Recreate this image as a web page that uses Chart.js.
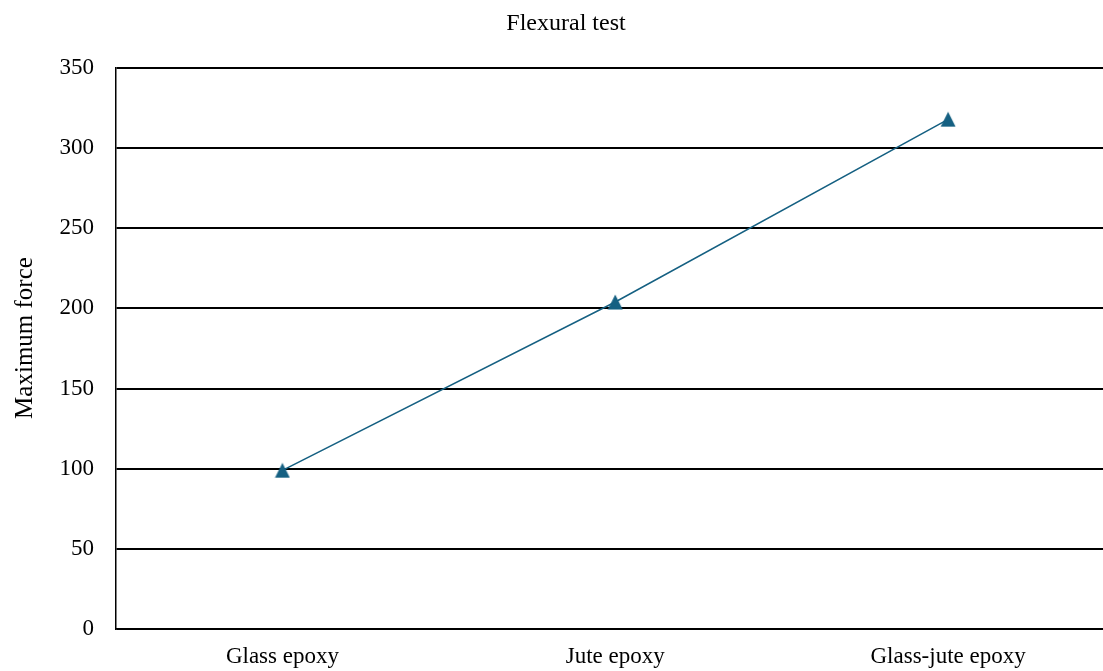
<!DOCTYPE html>
<html>
<head>
<meta charset="utf-8">
<script src="https://cdn.jsdelivr.net/npm/chart.js@4"></script>
<style>
  html, body { margin: 0; padding: 0; background: #fff; overflow: hidden; }
</style>
</head>
<body>
<canvas id="myChart" width="1120" height="671"></canvas>
<script>
var categories = ['Glass epoxy', 'Jute epoxy', 'Glass-jute epoxy'];
var maxForce = [99, 204, 318]; // flexural test results
var yTicks = [0, 50, 100, 150, 200, 250, 300, 350];

var serif = '"Liberation Serif", "Times New Roman", serif';
var blue = '#156082';

// triangle marker centred on its bounding box
var marker = document.createElement('canvas');
marker.width = 16;
marker.height = 16;
var m = marker.getContext('2d');
m.fillStyle = blue;
m.beginPath();
m.moveTo(8, 0.5);
m.lineTo(15.5, 15.5);
m.lineTo(0.5, 15.5);
m.closePath();
m.fill();

// chart title and y axis title, drawn by hand so they can sit off-centre
var titles = {
  id: 'titles',
  afterDraw: function (chart) {
    var c = chart.ctx;
    c.save();
    c.fillStyle = '#000';
    c.textAlign = 'center';
    c.textBaseline = 'alphabetic';
    c.font = '24px ' + serif;
    c.fillText('Flexural test', 566, 30);
    c.translate(32, 338);
    c.rotate(-Math.PI / 2);
    c.font = '25px ' + serif;
    c.fillText('Maximum force', 0, 0);
    c.restore();
  }
};

var ctx = document.getElementById('myChart').getContext('2d');
var myChart = new Chart(ctx, {
  type: 'line',
  data: {
    labels: categories,
    datasets: [
      {
        label: 'Maximum force',
        data: maxForce,
        borderColor: blue,
        backgroundColor: blue,
        borderWidth: 1.5,
        pointStyle: marker,
        tension: 0
      }
    ]
  },
  plugins: [titles],
  options: {
    responsive: false,
    animation: false,
    layout: { padding: { top: 68, left: 0, right: 0, bottom: 0 } },
    plugins: {
      legend: { display: false },
      tooltip: { enabled: false },
      title: { display: false }
    },
    scales: {
      x: {
        offset: true,
        grid: { display: false, drawTicks: false },
        border: { display: true, color: '#000', width: 1.5 },
        ticks: {
          color: '#000',
          padding: 14,
          maxRotation: 0,
          font: { family: serif, size: 23 }
        },
        afterFit: function (scale) { scale.height = 42; }
      },
      y: {
        min: 0,
        max: 350,
        afterBuildTicks: function (scale) {
          scale.ticks = yTicks.map(function (v) { return { value: v }; });
        },
        grid: { color: '#000', lineWidth: 2, drawTicks: false },
        border: { display: true, color: '#000', width: 1.5 },
        ticks: {
          color: '#000',
          padding: 22,
          font: { family: serif, size: 23 }
        },
        afterFit: function (scale) { scale.width = 116; }
      }
    }
  }
});
</script>
</body>
</html>
